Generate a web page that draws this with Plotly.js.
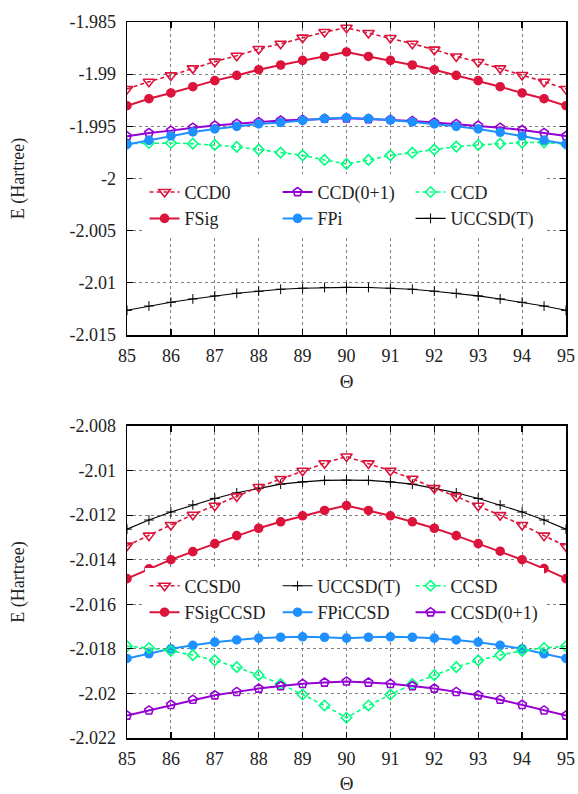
<!DOCTYPE html>
<html>
<head>
<meta charset="utf-8">
<script src="https://cdn.plot.ly/plotly-3.0.1.min.js"></script>
<style>html,body{margin:0;padding:0;background:#fff;}#chart{width:578px;height:794px;}</style>
</head>
<body>
<div id="chart"></div>
<script>
// Angles (degrees)
const theta = [85, 85.5, 86, 86.5, 87, 87.5, 88, 88.5, 89, 89.5, 90, 90.5, 91, 91.5, 92, 92.5, 93, 93.5, 94, 94.5, 95];

// Top panel series (Hartree)
const ccd0   = [-1.99142,-1.99072,-1.99012,-1.98944,-1.98880,-1.98823,-1.98759,-1.98708,-1.98650,-1.98596,-1.98555,-1.98605,-1.98653,-1.98708,-1.98765,-1.98830,-1.98883,-1.98944,-1.99008,-1.99072,-1.99142];
const fsig   = [-1.99302,-1.99235,-1.99180,-1.99120,-1.99062,-1.99012,-1.98957,-1.98912,-1.98868,-1.98830,-1.98787,-1.98830,-1.98868,-1.98912,-1.98957,-1.99012,-1.99062,-1.99120,-1.99180,-1.99235,-1.99302];
const ccd01  = [-1.99596,-1.99563,-1.99541,-1.99513,-1.99493,-1.99474,-1.99458,-1.99443,-1.99436,-1.99426,-1.99423,-1.99430,-1.99436,-1.99448,-1.99462,-1.99477,-1.99493,-1.99513,-1.99535,-1.99563,-1.99593];
const fpi    = [-1.99673,-1.99634,-1.99592,-1.99554,-1.99525,-1.99500,-1.99477,-1.99462,-1.99443,-1.99426,-1.99417,-1.99426,-1.99440,-1.99458,-1.99477,-1.99500,-1.99525,-1.99557,-1.99592,-1.99634,-1.99670];
const ccd    = [-1.99666,-1.99660,-1.99660,-1.99666,-1.99678,-1.99697,-1.99723,-1.99752,-1.99778,-1.99822,-1.99860,-1.99822,-1.99778,-1.99752,-1.99723,-1.99694,-1.99678,-1.99666,-1.99656,-1.99653,-1.99669];
const uccsdt = [-2.01263,-2.01222,-2.01186,-2.01154,-2.01125,-2.01100,-2.01080,-2.01061,-2.01051,-2.01044,-2.01043,-2.01044,-2.01051,-2.01061,-2.01080,-2.01100,-2.01125,-2.01154,-2.01186,-2.01222,-2.01263];

// Bottom panel series (Hartree)
const ccsd0    = [-2.01337,-2.01292,-2.01244,-2.01198,-2.01158,-2.01116,-2.01074,-2.01038,-2.01001,-2.00967,-2.00937,-2.00968,-2.01001,-2.01037,-2.01079,-2.01116,-2.01158,-2.01200,-2.01244,-2.01292,-2.01340];
const fsigccsd = [-2.01485,-2.01441,-2.01400,-2.01364,-2.01328,-2.01292,-2.01259,-2.01230,-2.01203,-2.01179,-2.01157,-2.01179,-2.01203,-2.01230,-2.01259,-2.01292,-2.01328,-2.01362,-2.01400,-2.01440,-2.01485];
const fpiccsd  = [-2.01843,-2.01822,-2.01800,-2.01784,-2.01770,-2.01760,-2.01752,-2.01748,-2.01746,-2.01748,-2.01752,-2.01748,-2.01746,-2.01748,-2.01752,-2.01760,-2.01770,-2.01784,-2.01800,-2.01822,-2.01843];
const ccsd     = [-2.01788,-2.01796,-2.01809,-2.01828,-2.01852,-2.01882,-2.01918,-2.01958,-2.02005,-2.02054,-2.02109,-2.02054,-2.02005,-2.01958,-2.01918,-2.01882,-2.01852,-2.01828,-2.01809,-2.01796,-2.01788];
const ccsd01   = [-2.02099,-2.02076,-2.02051,-2.02028,-2.02008,-2.01993,-2.01978,-2.01967,-2.01957,-2.01951,-2.01946,-2.01951,-2.01957,-2.01967,-2.01978,-2.01993,-2.02008,-2.02028,-2.02051,-2.02076,-2.02099];

// Tick labels
const xTicks = [85, 86, 87, 88, 89, 90, 91, 92, 93, 94, 95];
const xTickText = ['85','86','87','88','89','90','91','92','93','94','95'];
const yTopTicks = [-2.015, -2.01, -2.005, -2, -1.995, -1.99, -1.985];
const yTopText  = ['-2.015','-2.01','-2.005','-2','-1.995','-1.99','-1.985'];
const yBotTicks = [-2.022, -2.02, -2.018, -2.016, -2.014, -2.012, -2.01, -2.008];
const yBotText  = ['-2.022','-2.02','-2.018','-2.016','-2.014','-2.012','-2.01','-2.008'];

const RED = '#dc143c', BLUE = '#1e90ff', PURPLE = '#9400d3', GREEN = '#00ff7f', BLACK = '#000000';
const FONT = 'Liberation Serif, Times New Roman, serif';

function tr(y, name, color, dash, symbol, size, lw, xa, ya, leg, rank) {
  return {
    x: theta, y: y, name: name, type: 'scatter', mode: 'lines+markers',
    xaxis: xa, yaxis: ya, legend: leg, legendrank: rank,
    line: {color: color, width: lw, dash: dash},
    marker: {symbol: symbol, size: size, color: color, line: {color: color, width: 1.6}}
  };
}
function plusTr(xa, ya, leg, rank) {
  const t = tr(uccsdt, 'UCCSD(T)', BLACK, 'solid', 'cross-thin-open', 7, 1.1, xa, ya, leg, rank);
  t.marker = {symbol: 'cross-thin-open', size: 7, color: BLACK, line: {color: BLACK, width: 1}};
  return t;
}

const data = [
  // top
  tr(ccd,    'CCD',       GREEN,  '4px,3px', 'diamond-open',       8, 1.6, 'x', 'y', 'legend', 3),
  tr(ccd0,   'CCD0',      RED,    '4px,3px', 'triangle-down-open', 10, 1.6, 'x', 'y', 'legend', 1),
  tr(fsig,   'FSig',      RED,    'solid', 'circle',             8, 2,   'x', 'y', 'legend', 4),
  tr(ccd01,  'CCD(0+1)',  PURPLE, 'solid', 'pentagon-open',      9, 2,   'x', 'y', 'legend', 2),
  tr(fpi,    'FPi',       BLUE,   'solid', 'circle',             8, 2,   'x', 'y', 'legend', 5),
  plusTr('x', 'y', 'legend', 6),
  // bottom
  plusTr('x2', 'y2', 'legend2', 2),
  tr(ccsd0,    'CCSD0',     RED,    '4px,3px', 'triangle-down-open', 10, 1.6, 'x2', 'y2', 'legend2', 1),
  tr(fsigccsd, 'FSigCCSD',  RED,    'solid', 'circle',             8, 2,   'x2', 'y2', 'legend2', 4),
  tr(fpiccsd,  'FPiCCSD',   BLUE,   'solid', 'circle',             8, 2,   'x2', 'y2', 'legend2', 5),
  tr(ccsd,     'CCSD',      GREEN,  '4px,3px', 'diamond-open',       8, 1.6, 'x2', 'y2', 'legend2', 3),
  tr(ccsd01,   'CCSD(0+1)', PURPLE, 'solid', 'pentagon-open',      9, 2,   'x2', 'y2', 'legend2', 6)
];

function xax(anchor) {
  return {
    anchor: anchor, domain: [0, 1], range: [85, 95], tickmode: 'array', tickvals: xTicks, ticktext: xTickText,
    showline: true, linecolor: '#000', linewidth: 1.5, mirror: 'ticks',
    ticks: 'inside', ticklen: 6, tickwidth: 1.2, tickcolor: '#000',
    showgrid: true, gridcolor: '#808080', griddash: 'dot', gridwidth: 1,
    zeroline: false, ticklabelstandoff: 4,
    tickfont: {family: FONT, size: 18, color: '#222'},
    title: {text: 'Θ', standoff: 9, font: {family: FONT, size: 19, color: '#222'}}
  };
}
function yax(anchor, domain, range, tv, tt) {
  return {
    anchor: anchor, domain: domain, range: range, tickmode: 'array', tickvals: tv, ticktext: tt,
    showline: true, linecolor: '#000', linewidth: 1.5, mirror: 'ticks',
    ticks: 'inside', ticklen: 6, tickwidth: 1.2, tickcolor: '#000',
    showgrid: true, gridcolor: '#808080', griddash: 'dot', gridwidth: 1,
    zeroline: false, ticklabelstandoff: 6,
    tickfont: {family: FONT, size: 18, color: '#222'},
    title: {text: 'E (Hartree)', standoff: 40, font: {family: FONT, size: 18, color: '#222'}}
  };
}

const legBase = {
  orientation: 'h', xref: 'paper', yref: 'paper', xanchor: 'left', yanchor: 'top',
  entrywidth: 88, entrywidthmode: 'pixels', bgcolor: 'rgba(255,255,255,1)', borderwidth: 0,
  font: {family: FONT, size: 18, color: '#222'}, itemwidth: 30, tracegroupgap: 0
};

const layout = {
  width: 578, height: 794,
  margin: {l: 127, r: 12, t: 22, b: 56},
  paper_bgcolor: '#fff', plot_bgcolor: '#fff',
  font: {family: FONT, size: 18, color: '#222'},
  xaxis: xax('y'),
  yaxis: yax('x', [0.5628, 1], [-2.015, -1.985], yTopTicks, yTopText),
  xaxis2: xax('y2'),
  yaxis2: yax('x2', [0, 0.4358], [-2.022, -2.008], yBotTicks, yBotText),
  showlegend: true,
  legend: Object.assign({}, legBase, {x: 0.04, y: 0.788}),
  legend2: Object.assign({}, legBase, {x: 0.04, y: 0.238})
};

Plotly.newPlot('chart', data, layout, {displayModeBar: false, staticPlot: true});
</script>
</body>
</html>
